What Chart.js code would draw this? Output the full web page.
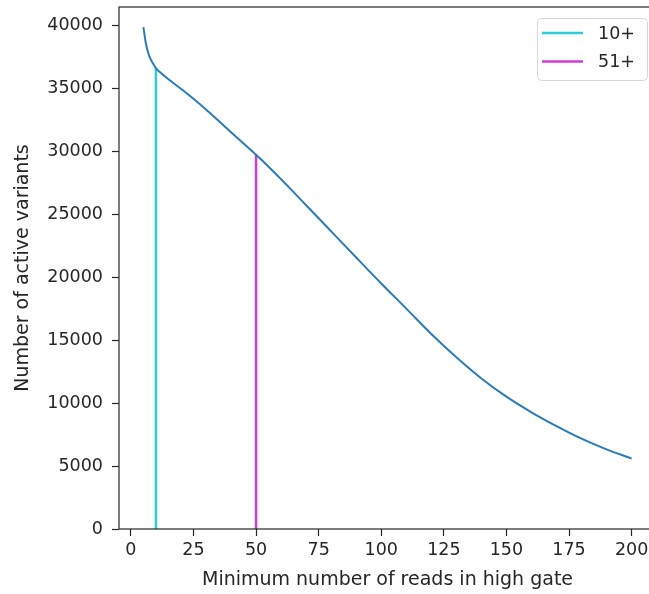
<!DOCTYPE html>
<html>
<head>
<meta charset="utf-8">
<script src="https://cdn.jsdelivr.net/npm/chart.js@4"></script>
<style>
  html, body { margin: 0; padding: 0; background: #fff; overflow: hidden; }
  #wrap { width: 656px; height: 594px; }
</style>
</head>
<body>
<div id="wrap"><canvas id="readsChart" width="656" height="594"></canvas></div>
<script>
// Curve: minimum reads in high gate vs number of active variants
const minReads = [5, 6, 7, 8, 9, 10, 12, 15, 20, 25, 30, 35, 40, 45, 50, 55, 60, 65, 70, 75, 80, 90,
                  100, 110, 120, 130, 140, 150, 160, 170, 180, 190, 200];
const activeVariants = [39900, 38600, 37800, 37300, 36950, 36650, 36250, 35750, 35000, 34200, 33350,
                        32450, 31550, 30650, 29750, 28800, 27800, 26780, 25740, 24700, 23660, 21580,
                        19520, 17520, 15500, 13650, 11970, 10520, 9280, 8180, 7180, 6330, 5600];

// Cut-off markers (vertical lines)
const cutLabels = ['10+', '51+'];
const cutX = [10, 50];
const cutY = [36650, 29750];
const cutColors = ['#2ccfd6', '#d03ad8'];

// Axis ticks
const xTicks = [0, 25, 50, 75, 100, 125, 150, 175, 200];
const yTicks = [0, 5000, 10000, 15000, 20000, 25000, 30000, 35000, 40000];

const FONT = { family: "'DejaVu Sans', sans-serif", size: 17.5 };
const TITLE_FONT = { family: "'DejaVu Sans', sans-serif", size: 19 };
const INK = '#262626';

// frame (matplotlib spines) + legend box in the upper right
const framePlugin = {
    id: 'frame',
    afterDraw(chart) {
        const { ctx, chartArea: a } = chart;
        ctx.save();
        ctx.strokeStyle = INK;
        ctx.lineWidth = 1.2;
        ctx.strokeRect(a.left, a.top, a.right - a.left, a.bottom - a.top);

        // legend
        const bx = 537, by = 18, bw = 110, bh = 62;
        ctx.fillStyle = 'rgba(255,255,255,0.85)';
        ctx.strokeStyle = '#d6d6d6';
        ctx.lineWidth = 1;
        ctx.beginPath();
        ctx.roundRect(bx + 0.5, by + 0.5, bw, bh, 4);
        ctx.fill();
        ctx.stroke();
        ctx.font = FONT.size + 'px ' + FONT.family;
        ctx.textBaseline = 'middle';
        cutLabels.forEach((lab, i) => {
            const ly = by + 15 + i * 28.5;
            ctx.strokeStyle = cutColors[i];
            ctx.lineWidth = 2.5;
            ctx.beginPath();
            ctx.moveTo(542, ly);
            ctx.lineTo(583, ly);
            ctx.stroke();
            ctx.fillStyle = INK;
            ctx.fillText(lab, 598, ly + 1);
        });
        ctx.restore();
    }
};

const datasets = [{
    label: 'active variants',
    data: minReads.map((x, i) => ({ x: x, y: activeVariants[i] })),
    borderColor: '#2b7bba',
    borderWidth: 2,
    pointRadius: 0,
    cubicInterpolationMode: 'monotone',
    fill: false
}];
cutX.forEach((x, i) => {
    datasets.push({
        label: cutLabels[i],
        data: [{ x: x, y: 0 }, { x: x, y: cutY[i] }],
        borderColor: cutColors[i],
        borderWidth: 2.5,
        pointRadius: 0,
        fill: false
    });
});

new Chart(document.getElementById('readsChart').getContext('2d'), {
    type: 'line',
    data: { datasets: datasets },
    plugins: [framePlugin],
    options: {
        responsive: false,
        animation: false,
        layout: { padding: { left: 12, top: 7, right: 0, bottom: 2 } },
        plugins: { legend: { display: false }, tooltip: { enabled: false } },
        scales: {
            x: {
                type: 'linear',
                min: -4.75,
                max: 209.75,
                afterBuildTicks: s => { s.ticks = xTicks.map(v => ({ value: v })); },
                afterFit: s => { s.height = 63; s.paddingLeft = 0; s.paddingRight = 0; },
                border: { display: false },
                grid: { drawOnChartArea: false, drawTicks: true, tickLength: 7, tickColor: INK, tickWidth: 1.2 },
                ticks: { color: INK, font: FONT, padding: 4, maxRotation: 0 },
                title: { display: true, text: 'Minimum number of reads in high gate', color: INK, font: TITLE_FONT, padding: { top: 2, bottom: 1 } }
            },
            y: {
                type: 'linear',
                min: 0,
                max: 41500,
                afterBuildTicks: s => { s.ticks = yTicks.map(v => ({ value: v })); },
                afterFit: s => { s.width = 107; s.paddingTop = 0; s.paddingBottom = 0; },
                border: { display: false },
                grid: { drawOnChartArea: false, drawTicks: true, tickLength: 7, tickColor: INK, tickWidth: 1.2 },
                ticks: { color: INK, font: FONT, padding: 9, callback: v => String(v) },
                title: { display: true, text: 'Number of active variants', color: INK, font: TITLE_FONT, padding: { top: 0, bottom: 0 } }
            }
        }
    }
});
</script>
</body>
</html>
